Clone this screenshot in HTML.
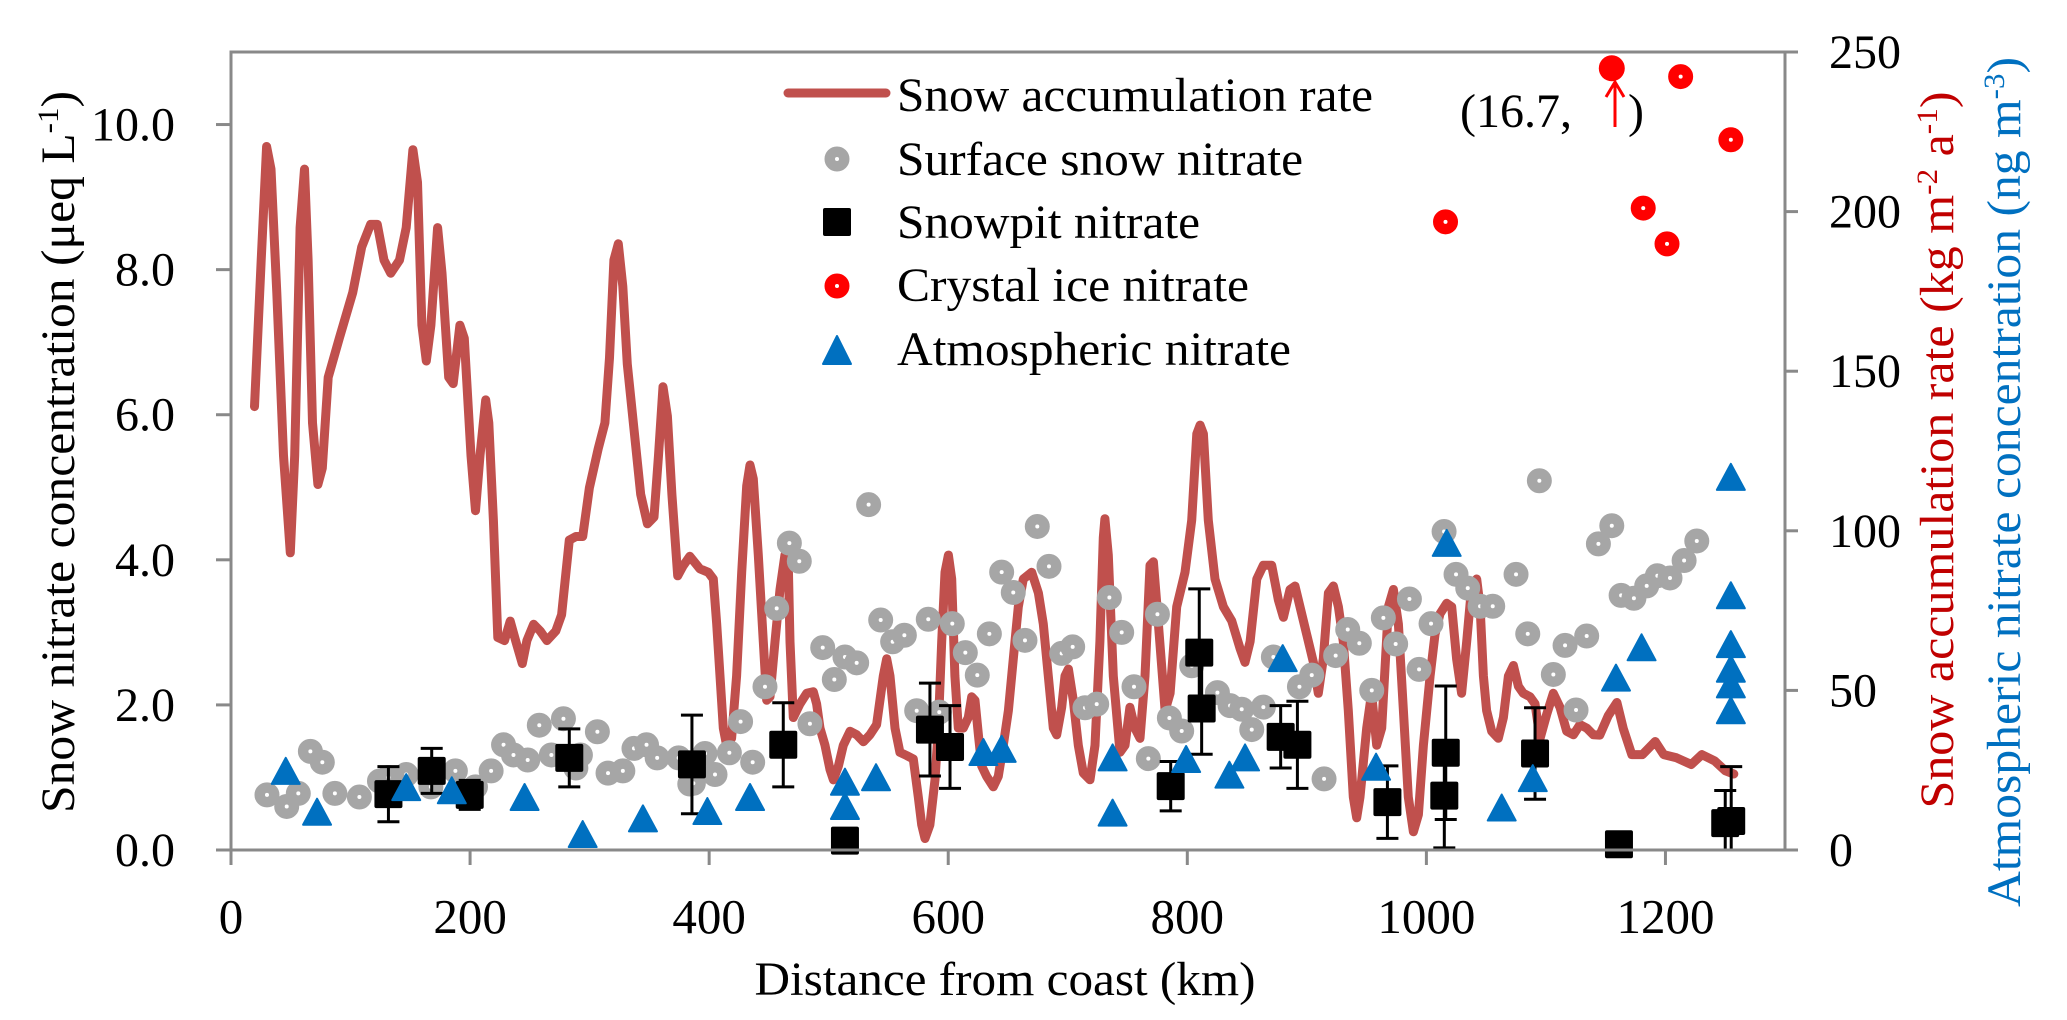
<!DOCTYPE html>
<html><head><meta charset="utf-8">
<style>
html,body{margin:0;padding:0;background:#fff;}
svg{display:block;font-family:"Liberation Serif","Times New Roman",serif;}
</style></head>
<body>
<svg id="chart" width="2067" height="1020" viewBox="0 0 2067 1020" xmlns="http://www.w3.org/2000/svg">
  <g id="grid"></g>
  <g id="line-layer"></g>
  <g id="marks"></g>
  <g id="axes"></g>

  <text transform="translate(74,452) rotate(-90)" text-anchor="middle" font-size="48" textLength="722" lengthAdjust="spacingAndGlyphs">Snow nitrate concentration (μeq L<tspan font-size="30" baseline-shift="super">-1</tspan>)</text>
  <text transform="translate(1953,450) rotate(-90)" text-anchor="middle" font-size="48" fill="#c00000" textLength="717" lengthAdjust="spacingAndGlyphs">Snow accumulation rate (kg m<tspan font-size="30" baseline-shift="super">-2</tspan> a<tspan font-size="30" baseline-shift="super">-1</tspan>)</text>
  <text transform="translate(2020,482) rotate(-90)" text-anchor="middle" font-size="48" fill="#0070c0" textLength="850" lengthAdjust="spacingAndGlyphs">Atmospheric nitrate concentration (ng m<tspan font-size="30" baseline-shift="super">-3</tspan>)</text>
  <text x="1005" y="995" text-anchor="middle" font-size="48" textLength="501" lengthAdjust="spacingAndGlyphs">Distance from coast (km)</text>

  <g>
    <text x="1460" y="127" font-size="48">(16.7,</text>
    <line x1="1615" y1="127" x2="1615" y2="84" stroke="#ff0000" stroke-width="3"/>
    <polyline points="1606,97 1615,82 1624,97" fill="none" stroke="#ff0000" stroke-width="3"/>
    <text x="1628" y="127" font-size="48">)</text>
  </g>

  <g id="legend">
    <g>
      <line x1="788" y1="93" x2="886" y2="93" stroke="#c0504d" stroke-width="9" stroke-linecap="round"/>
      <text x="897" y="111" font-size="48" textLength="476" lengthAdjust="spacingAndGlyphs">Snow accumulation rate</text>
    </g>
    <g>
      <circle cx="837" cy="159" r="7" fill="none" stroke="#a6a6a6" stroke-width="11"/>
      <circle cx="837" cy="159" r="2" fill="#fff"/>
      <text x="897" y="175" font-size="48" textLength="406" lengthAdjust="spacingAndGlyphs">Surface snow nitrate</text>
    </g>
    <g>
      <rect x="823" y="208" width="28" height="28" rx="2" fill="#000"/>
      <text x="897" y="238" font-size="48" textLength="303" lengthAdjust="spacingAndGlyphs">Snowpit nitrate</text>
    </g>
    <g>
      <circle cx="837" cy="286" r="7" fill="none" stroke="#ff0000" stroke-width="11"/>
      <circle cx="837" cy="286" r="2" fill="#fff"/>
      <text x="897" y="301" font-size="48" textLength="352" lengthAdjust="spacingAndGlyphs">Crystal ice nitrate</text>
    </g>
    <g>
      <polygon points="837,336 851,364 823,364" fill="#0070c0" stroke="#0070c0" stroke-width="2" stroke-linejoin="round"/>
      <text x="897" y="365" font-size="48" textLength="394" lengthAdjust="spacingAndGlyphs">Atmospheric nitrate</text>
    </g>
  </g>
</svg>
<script>
// ---- data ----
const accKm = [19.7,25.3,29.8,33.5,38.3,43.9,49.6,53.3,57.8,61.5,64.5,68.2,72.7,76.4,81.3,90.6,101.8,109.3,116.8,122.4,128,133.6,141,146.6,152.2,156,159.7,163.4,167.2,172.8,176.5,182.1,185.9,191.5,195.2,200.8,204.5,208.3,213.1,215.7,219.5,223.2,228.8,233.6,238.1,243.7,247.5,253.1,258.7,264.3,271.7,276.6,283,288.6,294.2,299.8,307.2,312.8,316.6,320.3,324,327.8,331.5,337.1,342.7,348.3,353.9,357.6,361.4,365.1,368.8,373.7,378.2,383.8,392.3,399.3,403.5,406.3,409.1,411.8,414.6,418.8,423,427.2,431.4,434.2,436.9,441.1,445.3,448.1,450.9,455.1,459.3,463.4,466.2,467.6,470.4,476,481.6,487.1,489.9,492.7,496.9,501.1,503.9,508.1,512.2,517.8,523.4,529,534.5,540.1,545.7,548.5,551.3,555.5,559.6,565.2,570.8,575,577.8,580.6,584.7,588.9,591.7,594.5,597.3,600.1,602.9,605.6,608.4,612.6,616.8,619.6,622.4,625.2,628,632.1,637.7,641.9,646.1,650.3,654.4,658.6,662.8,669.8,675.4,679.5,683.7,687.9,690.7,694.9,697.7,700.5,704.6,708.8,713,718.6,722.8,726.9,729.7,731.1,733.9,738.1,743.7,747.9,752,756.2,760.4,764.6,768.8,771.6,775.8,781.4,785.6,791.1,798.1,803.7,807.9,810.7,813.5,817.6,823.2,830.2,837.1,844.1,848.3,852.5,858.1,863.6,870.6,876.2,880.4,885.9,890.1,894.3,899.9,905.5,909.6,913.8,918,922.2,926.4,930.5,934.7,938.9,941.7,944.5,950.1,954.2,958.4,962.6,968.2,972.4,976.6,980.8,984.9,989.1,993.3,997.5,1003.1,1007.2,1011.4,1017,1021.2,1025.3,1029.5,1033.7,1037.9,1042.1,1044.9,1047.7,1050.4,1054.6,1060.2,1064.4,1068.6,1072.8,1077,1081.1,1086.7,1090.9,1095.1,1100.7,1106.2,1111.8,1117.4,1123,1128.5,1134.1,1139.7,1145.1,1152.2,1159.4,1164.7,1171.8,1180.7,1191.4,1198.5,1209.2,1221.6,1230.5,1241.2,1250.1,1257.2];
const accRate = [138.9,184.8,220.4,213.3,174.6,123.6,93.1,123.6,195,213.3,184.8,133.8,114.5,119.6,148.1,160.3,174.6,188.9,196,196,184.8,180.7,184.8,195,219.4,209.2,164.4,153.2,164.4,195,180.7,148.1,146.1,164.4,160.3,123.6,106.3,123.6,141,133.8,103.3,66.6,65.6,71.7,65.6,58.4,65.6,70.7,68.6,65.6,68.6,73.7,97.1,98.2,98.2,113.5,125.7,133.8,154.2,184.8,189.9,176.6,152.2,131.8,111.4,102.2,104.3,123.6,145.1,135.9,111.4,85.9,89,92,88.1,87,84.9,70.8,54.5,38.2,32.8,35,54.5,87,114.1,120.6,116.3,92.4,65.3,46.9,48,65.3,81.6,92.4,89.2,65.3,41.5,45.8,49.1,49.6,45.8,38.2,32.8,25.2,22,26.3,32.8,37.2,36.1,33.9,36.1,39.3,54.5,59.9,54.5,38.2,30.6,29.6,28.5,16.6,7.9,3.6,7.9,22,38.2,65.3,87,92.4,84.9,54.5,38.2,38.2,41.5,48,46.9,36.1,26.3,23.1,19.8,23.1,32.8,43.7,59.9,76.2,84.9,87,80.5,70.8,54.5,38.2,36.1,44.7,54.5,56.7,46.9,32.8,24.1,22,32.8,65.3,97.9,103.8,92.4,54.5,30.6,32.8,44.7,38.2,35,54.5,89.2,90.3,70.8,43.7,49.1,76.2,87,103.3,130.4,133.1,130.4,103.3,84.9,76.2,71.8,63.2,58.8,65.3,84.9,89.2,89.2,78.3,72.9,81.6,82.7,76.2,67.5,58.8,49.1,59.9,80.5,82.7,76.2,65.3,43.7,16.6,10.1,16.6,38.2,49.1,32.8,38.2,76.2,81.6,70.8,43.7,16.6,5.7,11.1,32.8,54.5,67.5,74,77.3,76.2,59.9,49.1,65.3,82.7,84.9,76.2,54.5,43.7,37.2,35,41.5,54.5,57.8,51.3,49.1,48,45.8,35,42.6,49.1,44.7,37.2,36.1,39.3,38.2,36.1,36,42.1,46.2,38,29.9,29.9,34,29.9,28.9,26.8,29.9,27.9,24.8,23.8];

const surfKm = [30.1,46.6,56.3,66.4,76.4,86.9,107.4,124.2,131.7,146.6,167.2,187.7,204.5,217.6,228,236.3,248.2,257.9,268,278.1,288.5,292.3,306.5,315.4,327.8,337.1,347.6,356.5,374.5,383.8,386.8,396.5,404.9,416.9,426.3,436.4,446.7,456.5,467.1,475.4,484.3,495,504.7,513.6,523.4,533.4,543.5,553.5,563.3,573.6,583.3,592.5,603.4,614.3,624.3,634.4,644.7,654.4,664.2,674.5,684.3,694.9,704.1,714.4,724.2,734.8,745.1,755.4,767.4,775,785,795.3,803.7,825.2,835.8,845.5,853.9,863.6,872,893.8,904.1,914.4,924.1,934.2,943.9,954.3,964,974.3,985.8,993.9,1003.9,1014.8,1024.8,1034.6,1044.9,1055.5,1075,1084.8,1094.5,1106.2,1116,1125.2,1134.1,1143.9,1155.1,1162.9,1173.6,1184.3,1193.2,1203.8,1215.6,1226.2];
const surfVal = [0.76,0.60,0.78,1.36,1.21,0.78,0.73,0.95,1.0,1.04,0.87,1.09,0.87,1.09,1.45,1.31,1.24,1.72,1.31,1.81,1.13,1.31,1.63,1.06,1.09,1.4,1.45,1.27,1.27,0.91,0.92,1.33,1.04,1.34,1.77,1.21,2.25,3.33,4.23,3.98,1.74,2.79,2.35,2.66,2.58,4.76,3.17,2.87,2.96,1.92,3.18,1.90,3.12,2.72,2.41,2.98,3.83,3.55,2.89,4.46,3.91,2.71,2.80,1.96,2.01,3.48,3.00,2.25,1.26,3.25,1.82,1.64,2.54,2.17,1.99,1.94,1.66,1.97,2.66,2.25,2.41,0.98,2.68,3.04,2.85,2.20,3.20,2.84,3.46,2.49,3.12,4.39,3.80,3.61,3.36,3.36,3.80,2.98,5.09,2.42,2.82,1.93,2.95,4.22,4.47,3.51,3.47,3.64,3.78,3.75,3.99,4.26];

const pitKm = [131.7,167.9,199.7,283,385.6,462,513.6,584.7,601.5,786.1,810,812,878.1,892.1,967.4,1015,1016.2,1090.9,1161.1,1250,1255];
const pitVal = [0.77,1.09,0.76,1.27,1.18,1.45,0.13,1.66,1.42,0.88,2.72,1.95,1.56,1.45,0.66,0.75,1.34,1.33,0.08,0.37,0.40];
const pitErr = [0.38,0.31,0.2,0.40,0.68,0.58,0,0.64,0.57,0.34,0.88,0.63,0.43,0.6,0.5,0.72,0.92,0.63,0,0.45,0.75];

const crystalKm = [1016,1155.1,1181.4,1201.3,1212.7,1254.7];
const crystalVal = [196.8,244.9,201.1,189.9,242.3,222.5];

const atmKm = [45.8,72,146.6,184.7,245.6,294.2,344.6,398.5,434.2,513.6,513.6,539.6,629.4,644.7,737.5,737.5,799,835.2,848.3,879.8,957.9,1017,1063,1089,1158.6,1180,1254.7,1254.7,1254.7,1254.7,1254.7,1254.7];
const atmVal = [24.8,12,19.7,18.7,16.6,5.0,9.9,12.2,16.6,21.4,13.8,22.8,30.7,31.7,29.0,11.7,28.5,23.6,29.0,60.1,26.1,96.2,13.3,22.5,54,63.5,116.9,79.8,64.5,56.8,51.9,43.8];

const xTicks = [0,200,400,600,800,1000,1200];
const yLeftTicks = [0,2,4,6,8,10];
const yLeftLabels = ["0.0","2.0","4.0","6.0","8.0","10.0"];
const yRightTicks = [0,50,100,150,200,250];

// ---- axes functions ----
const X0 = 231, X1 = 1785, Y0 = 850, Y1 = 52;
const XMAX = 1300, LMAX = 11, RMAX = 250;
function sx(v){ return X0 + v/XMAX*(X1-X0); }
function syL(v){ return Y0 - v/LMAX*(Y0-Y1); }
function syR(v){ return Y0 - v/RMAX*(Y0-Y1); }

const NS = "http://www.w3.org/2000/svg";
function mk(tag, attrs, parent){
  const e = document.createElementNS(NS, tag);
  for (const k in attrs) e.setAttribute(k, attrs[k]);
  parent.appendChild(e);
  return e;
}
const axes = document.getElementById('axes');
const marks = document.getElementById('marks');
const lineLayer = document.getElementById('line-layer');
const AX = "#898989";

let fr = mk('rect', {x:X0, y:Y1, width:X1-X0, height:Y0-Y1, fill:'none', stroke:AX, 'stroke-width':3}, axes);



xTicks.forEach(t => {
  const x = sx(t);
  const tk = mk('line', {x1:x, y1:Y0, x2:x, y2:865, stroke:AX, 'stroke-width':3}, axes);
  
  
  const lb = mk('text', {x:x, y:933, 'text-anchor':'middle', 'font-size':49}, axes);
  lb.textContent = String(t);
  
  
});
yLeftTicks.forEach((t, i) => {
  const y = syL(t);
  const tk = mk('line', {x1:216, y1:y, x2:X0, y2:y, stroke:AX, 'stroke-width':3}, axes);
  
  
  const lb = mk('text', {x:175, y:y+16, 'text-anchor':'end', 'font-size':48}, axes);
  lb.textContent = yLeftLabels[i];
  
  
});
yRightTicks.forEach(t => {
  const y = syR(t);
  const tk = mk('line', {x1:X1, y1:y, x2:1798, y2:y, stroke:AX, 'stroke-width':3}, axes);
  
  
  const lb = mk('text', {x:1829, y:y+16, 'text-anchor':'start', 'font-size':48}, axes);
  lb.textContent = String(t);
  
  
});

let pts = accKm.map((k, i) => sx(k).toFixed(1) + ',' + syR(accRate[i]).toFixed(1)).join(' ');
const pl = mk('polyline', {points:pts, fill:'none', stroke:'#c0504d', 'stroke-width':9, 'stroke-linejoin':'round', 'stroke-linecap':'round'}, lineLayer);



surfKm.forEach((k, i) => {
  const cx = sx(k), cy = syL(surfVal[i]);
  const c = mk('circle', {cx:cx, cy:cy, r:7, fill:'none', stroke:'#a6a6a6', 'stroke-width':11}, marks);
  
  
  const d = mk('circle', {cx:cx, cy:cy, r:2, fill:'#fff'}, marks);
  
  
});

pitKm.forEach((k, i) => {
  const cx = sx(k), v = pitVal[i], e = pitErr[i];
  if (e > 0) {
    const yt = syL(v+e), yb = syL(Math.max(0, v-e));
    const g = mk('path', {d:`M${cx},${yt}V${yb}M${cx-11},${yt}H${cx+11}M${cx-11},${yb}H${cx+11}`, stroke:'#000', 'stroke-width':3, fill:'none'}, marks);
    
    
  }
  const r = mk('rect', {x:cx-14, y:syL(v)-14, width:28, height:28, rx:2, fill:'#000'}, marks);
  
  
});

atmKm.forEach((k, i) => {
  const cx = sx(k), cy = syR(atmVal[i]);
  const t = mk('polygon', {points:`${cx},${cy-13} ${cx+14},${cy+13} ${cx-14},${cy+13}`, fill:'#0070c0', stroke:'#0070c0', 'stroke-width':2, 'stroke-linejoin':'round'}, marks);
  
  
});

crystalKm.forEach((k, i) => {
  const cx = sx(k), cy = syR(crystalVal[i]);
  const solid = crystalVal[i] > 244;
  const c = mk('circle', solid ? {cx:cx, cy:cy, r:13, fill:'#ff0000'} : {cx:cx, cy:cy, r:7, fill:'none', stroke:'#ff0000', 'stroke-width':11}, marks);
  
  
  if (!solid) {
    const d = mk('circle', {cx:cx, cy:cy, r:2, fill:'#fff'}, marks);
    
    
  }
});
</script>
</body></html>
